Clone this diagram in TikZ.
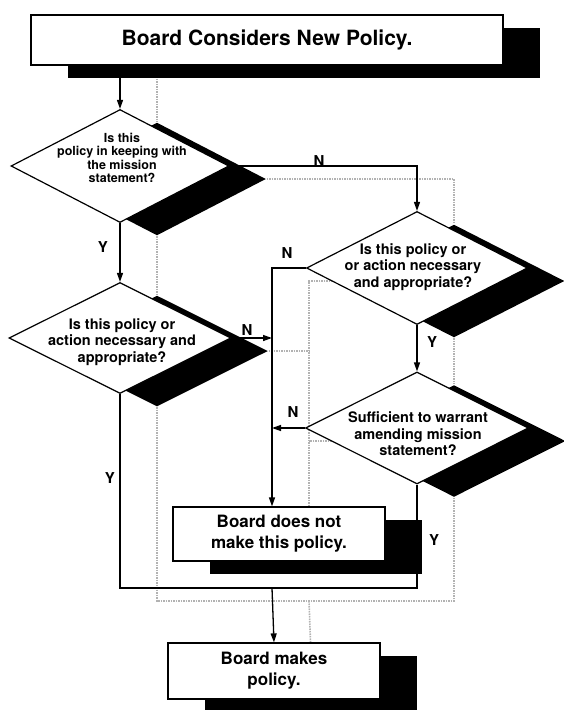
\documentclass[tikz,border=0pt]{standalone}
\usepackage{fontspec}
\setmainfont{TeX Gyre Heros}
\usetikzlibrary{shapes.geometric,shadows,arrows.meta}
\pgfdeclarelayer{background}
\pgfsetlayers{background,main}
\tikzset{
  shad/.style={drop shadow={shadow xshift=37pt,shadow yshift=-13pt,opacity=1,fill=black}},
  box/.style={rectangle,draw,fill=white,line width=1.2pt,shad,inner sep=0pt,align=center,
    font=\bfseries\fontsize{17}{21}\selectfont},
  dia/.style={diamond,draw,fill=white,line width=1.2pt,shad,inner sep=0pt},
  dtext/.style={align=center,inner sep=0pt,font=\bfseries\fontsize{14.5}{16.5}\selectfont},
  lab/.style={inner sep=0pt,font=\bfseries\fontsize{15}{15}\selectfont},
  conn/.style={line width=1.3pt},
  arr/.style={conn,-{Triangle[length=9pt,width=6pt]}},
  gsh/.style={draw=black!30,line width=1.6pt,dash pattern=on 1.5pt off 1pt,
    transform canvas={shift={(37pt,-13pt)}}},
}
\begin{document}
\begin{tikzpicture}[x=1pt,y=-1pt]
\useasboundingbox (0,0) rectangle (564,710);

% shapes
\node[box,minimum width=472pt,minimum height=50pt,
  font=\bfseries\fontsize{21}{25}\selectfont] (top) at (267,40) {Board Considers New Policy.};
\node[dia,minimum width=218pt,minimum height=113pt] (d1) at (120,166) {};
\node[dia,minimum width=222pt,minimum height=111pt] (d4) at (120,338) {};
\node[dia,minimum width=221pt,minimum height=113pt] (d2) at (417,268) {};
\node[dia,minimum width=223pt,minimum height=112pt] (d3) at (417,428) {};
\node[box,minimum width=212pt,minimum height=54pt] (nm) at (279,534) {Board does not\\make this policy.};
\node[box,minimum width=212pt,minimum height=56pt] (mk) at (274,671) {Board makes\\policy.};

% diamond texts
\node[dtext,font=\bfseries\fontsize{12.5}{13.5}\selectfont] (d1t) at (122,158)
  {Is this\\policy in keeping with\\the mission\\statement?};
\node[dtext] (d4t) at (122,342) {Is this policy or\\action necessary and\\appropriate?};
\node[dtext] (d2t) at (413,267) {Is this policy or\\or action necessary\\and appropriate?};
\node[dtext] (d3t) at (418,434) {Sufficient to warrant\\amending mission\\statement?};

% junction points
\coordinate (jn) at (272,268);
\coordinate (jb) at (272,588);

% grey connector shadows
\begin{pgfonlayer}{background}
\draw[gsh] (top.south -| d1.north) -- (d1.north);
\draw[gsh] (d1.south) -- (d4.north);
\draw[gsh] (d1.east) -- (d1.east -| d2.north) -- (d2.north);
\draw[gsh] (d2.west) -- (jn) -- (jn |- nm.north);
\draw[gsh] (d2.south) -- (d3.north);
\draw[gsh] (d3.west) -- (d3.west -| jn);
\draw[gsh] (d4.east) -- (d4.east -| jn);
\draw[gsh] (d4.south) -- (d4.south |- jb) -- (d3.south |- jb) -- (d3.south);
\draw[gsh] (jb) -- (mk.north);
\end{pgfonlayer}

% connectors
\draw[arr] (top.south -| d1.north) -- (d1.north);
\draw[arr] (d1.south) -- (d4.north);
\draw[arr] (d1.east) -- (d1.east -| d2.north) -- (d2.north);
\draw[arr] (d2.west) -- (jn) -- (jn |- nm.north);
\draw[arr] (d2.south) -- (d3.north);
\draw[arr] (d3.west) -- (d3.west -| jn);
\draw[arr] (d4.east) -- (d4.east -| jn);
\draw[conn] (d4.south) -- (d4.south |- jb) -- (d3.south |- jb) -- (d3.south);
\draw[arr] (jb) -- (mk.north);

% labels
\node[lab] (n1) at (319,161) {N};
\node[lab] (y1) at (103,247) {Y};
\node[lab] (n2) at (287,253) {N};
\node[lab] (y2) at (432,342) {Y};
\node[lab] (n4) at (247,330) {N};
\node[lab] (n3) at (293,412) {N};
\node[lab] (y4) at (110,478) {Y};
\node[lab] (y3) at (434,540) {Y};
\end{tikzpicture}
\end{document}
